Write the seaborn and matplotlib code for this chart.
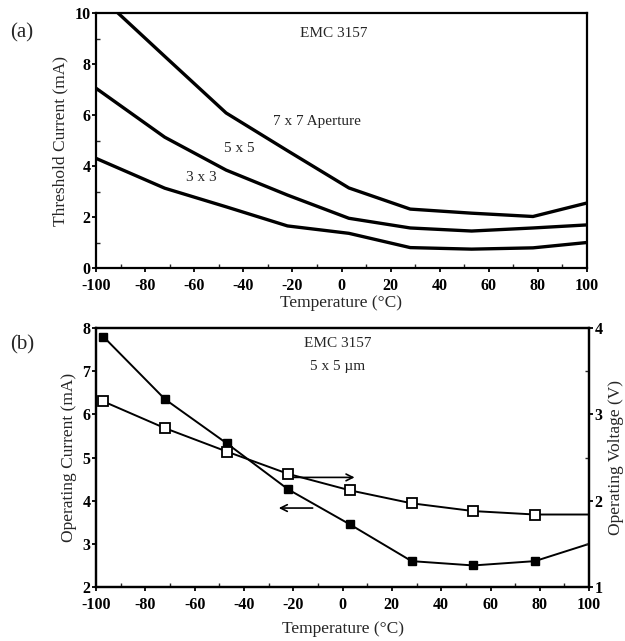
import numpy as np
import pandas as pd
import matplotlib
matplotlib.use("Agg")
import matplotlib.pyplot as plt
from matplotlib.ticker import MultipleLocator
import seaborn as sns

# Panel (a): threshold current vs temperature for three aperture sizes
temp_a = [-100, -72, -47, -22, 3, 28, 53, 78, 100]
ith_7x7 = [10.8, 8.3, 6.08, 4.6, 3.14, 2.31, 2.15, 2.02, 2.55]
ith_5x5 = [7.05, 5.13, 3.84, 2.86, 1.95, 1.57, 1.45, 1.57, 1.69]
ith_3x3 = [4.3, 3.13, 2.4, 1.65, 1.36, 0.8, 0.74, 0.79, 1.0]

# Panel (b): operating current / voltage of 5 x 5 um device
temp_b = [-97, -72, -47, -22, 3, 28, 53, 78, 100]
op_current = [7.8, 6.35, 5.33, 4.26, 3.45, 2.6, 2.5, 2.6, 3.0]
op_voltage = [3.15, 2.84, 2.57, 2.31, 2.12, 1.97, 1.88, 1.84, 1.84]
has_marker = [True, True, True, True, True, True, True, True, False]

sns.set_theme(style="ticks")
plt.rcParams['font.family'] = ['Liberation Serif', 'DejaVu Serif']
plt.rcParams['axes.unicode_minus'] = False

fig = plt.figure(figsize=(6.25, 6.41), dpi=100)
ax_a = fig.add_axes([0.1536, 0.5819, 0.7856, 0.3978])
ax_b = fig.add_axes([0.1536, 0.0842, 0.789, 0.404])

LW_SPINE = 1.6
TICK_FS = 11.5
LABEL_FS = 12.5


def style_axis(ax):
    for s in ax.spines.values():
        s.set_linewidth(LW_SPINE)
        s.set_color("black")
    ax.tick_params(which="major", direction="out", length=3, width=1.3,
                   labelsize=TICK_FS, pad=1, colors="black")
    ax.tick_params(axis="x", which="major", pad=4)
    ax.tick_params(which="minor", direction="in", length=3, width=1.0)
    for lab in ax.get_xticklabels() + ax.get_yticklabels():
        lab.set_fontweight("bold")


# ---- panel (a)
df_a = pd.DataFrame({
    "temp": temp_a * 3,
    "ith": ith_7x7 + ith_5x5 + ith_3x3,
    "size": ["7x7"] * 9 + ["5x5"] * 9 + ["3x3"] * 9,
})
sns.lineplot(data=df_a, x="temp", y="ith", units="size", estimator=None,
             color="black", lw=2.4, ax=ax_a, legend=False)
ax_a.set_xlim(-100, 100)
ax_a.set_ylim(0, 10)
ax_a.xaxis.set_major_locator(MultipleLocator(20))
ax_a.xaxis.set_minor_locator(MultipleLocator(10))
ax_a.yaxis.set_major_locator(MultipleLocator(2))
ax_a.yaxis.set_minor_locator(MultipleLocator(1))
ax_a.set_xlabel("Temperature (°C)", fontsize=LABEL_FS, labelpad=1)
ax_a.set_ylabel("Threshold Current (mA)", fontsize=LABEL_FS, labelpad=4)
style_axis(ax_a)

ax_a.text(-28, 5.75, "7 x 7 Aperture", fontsize=11, ha="left", va="center")
ax_a.text(-48, 4.7, "5 x 5", fontsize=11, ha="left", va="center")
ax_a.text(-63.5, 3.55, "3 x 3", fontsize=11, ha="left", va="center")
ax_a.text(-3, 9.2, "EMC 3157", fontsize=11, ha="center", va="center")
fig.text(0.016, 0.948, "(a)", fontsize=15, ha="left", va="center")

# ---- panel (b)
sns.lineplot(x=temp_b, y=op_current, color="black", lw=1.4, ax=ax_b)
ax_b.plot([t for t, m in zip(temp_b, has_marker) if m],
          [v for v, m in zip(op_current, has_marker) if m],
          ls="none", marker="s", ms=6, color="black", zorder=5)
ax_b.set_xlim(-100, 100)
ax_b.set_ylim(2, 8)
ax_b.xaxis.set_major_locator(MultipleLocator(20))
ax_b.xaxis.set_minor_locator(MultipleLocator(10))
ax_b.yaxis.set_major_locator(MultipleLocator(1))
ax_b.set_xlabel("Temperature (°C)", fontsize=LABEL_FS, labelpad=6)
ax_b.set_ylabel("Operating Current (mA)", fontsize=LABEL_FS, labelpad=4)
style_axis(ax_b)

ax_v = ax_b.twinx()
sns.lineplot(x=temp_b, y=op_voltage, color="black", lw=1.4, ax=ax_v)
ax_v.plot([t for t, m in zip(temp_b, has_marker) if m],
          [v for v, m in zip(op_voltage, has_marker) if m],
          ls="none", marker="s", ms=7, mfc="white", mec="black", mew=1.3,
          zorder=5)
ax_v.set_ylim(1, 4)
ax_v.yaxis.set_major_locator(MultipleLocator(1))
ax_v.yaxis.set_minor_locator(MultipleLocator(0.5))
ax_v.set_ylabel("Operating Voltage (V)", fontsize=LABEL_FS, labelpad=4)
style_axis(ax_v)

ax_b.annotate("", xy=(-27, 3.83), xytext=(-11, 3.83),
              arrowprops=dict(arrowstyle="->", lw=1.2, color="black"))
ax_v.annotate("", xy=(6, 2.27), xytext=(-22, 2.27),
              arrowprops=dict(arrowstyle="->", lw=1.2, color="black"))
ax_b.text(-2, 7.65, "EMC 3157", fontsize=11, ha="center", va="center")
ax_b.text(-2, 7.12, "5 x 5 µm", fontsize=11, ha="center", va="center")
fig.text(0.016, 0.462, "(b)", fontsize=15, ha="left", va="center")

fig.savefig("out.png", dpi=100)
